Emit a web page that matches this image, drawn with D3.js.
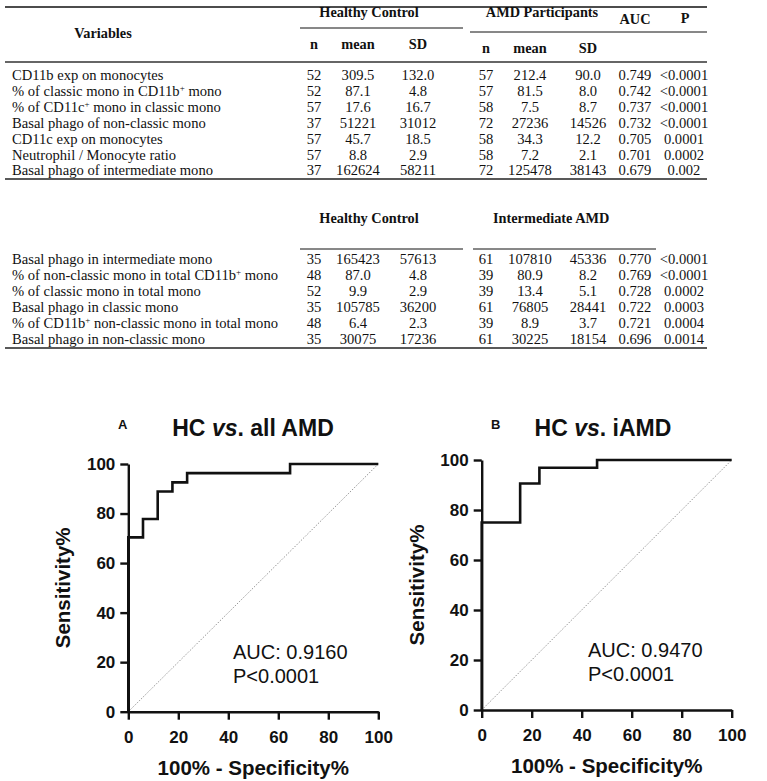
<!DOCTYPE html>
<html><head><meta charset="utf-8">
<script src="https://cdn.jsdelivr.net/npm/d3@7"></script>
<style>body{margin:0;background:#fff}</style>
</head><body>
<svg id="c" width="767" height="781"></svg>
<script>
// ---------- DATA ----------
const t1Vars = ["CD11b exp on monocytes","% of classic mono in CD11b^+ mono","% of CD11c^+ mono in classic mono","Basal phago of non-classic mono","CD11c exp on monocytes","Neutrophil / Monocyte ratio","Basal phago of intermediate mono"];
const t1HcN = ["52","52","57","37","57","57","37"];
const t1HcMean = ["309.5","87.1","17.6","51221","45.7","8.8","162624"];
const t1HcSd = ["132.0","4.8","16.7","31012","18.5","2.9","58211"];
const t1AmdN = ["57","57","58","72","58","58","72"];
const t1AmdMean = ["212.4","81.5","7.5","27236","34.3","7.2","125478"];
const t1AmdSd = ["90.0","8.0","8.7","14526","12.2","2.1","38143"];
const t1Auc = ["0.749","0.742","0.737","0.732","0.705","0.701","0.679"];
const t1P = ["<0.0001","<0.0001","<0.0001","<0.0001","0.0001","0.0002","0.002"];

const t2Vars = ["Basal phago in intermediate mono","% of non-classic mono in total CD11b^+ mono","% of classic mono in total mono","Basal phago in classic mono","% of CD11b^+ non-classic mono in total mono","Basal phago in non-classic mono"];
const t2HcN = ["35","48","52","35","48","35"];
const t2HcMean = ["165423","87.0","9.9","105785","6.4","30075"];
const t2HcSd = ["57613","4.8","2.9","36200","2.3","17236"];
const t2IamdN = ["61","39","39","61","39","61"];
const t2IamdMean = ["107810","80.9","13.4","76805","8.9","30225"];
const t2IamdSd = ["45336","8.2","5.1","28441","3.7","18154"];
const t2Auc = ["0.770","0.769","0.728","0.722","0.721","0.696"];
const t2P = ["<0.0001","<0.0001","0.0002","0.0003","0.0004","0.0014"];

const colKeys = ["hcN","hcMean","hcSd","amdN","amdMean","amdSd","auc","p"];
const subHeaders = ["n","mean","SD"];

// ROC curves (100% - specificity, sensitivity)
const rocAX = [0, 0, 5.88, 11.76, 17.65, 23.53, 64.71, 100];
const rocAY = [0, 70.37, 77.78, 88.89, 92.59, 96.30, 100, 100];
const rocBX = [0, 0, 15.38, 23.08, 46.15, 100];
const rocBY = [0, 75.0, 90.63, 96.88, 100, 100];
const axisTicks = [0, 20, 40, 60, 80, 100];

// ---------- DRAW ----------
const svg = d3.select("#c");
const serif = "'Liberation Serif','Times New Roman',serif";
const sans = "'Liberation Sans',Arial,Helvetica,sans-serif";

const colX = d3.scaleOrdinal().domain(colKeys).range([314, 358, 418, 486, 530, 588, 635, 684]);

function richText(sel, str){
  const parts = str.split("^+");
  parts.forEach((p,i)=>{
    const ts = sel.append("tspan").text(p);
    if(i > 0) ts.attr("dy","5");
    if(i < parts.length-1){
      sel.append("tspan").attr("font-size","9px").attr("dy","-5").text("+");
    }
  });
}

function drawRows(vars, cols, y0){
  const rowY = d3.scaleLinear().domain([0,1]).range([y0, y0+15.9]);
  const g = svg.append("g").attr("font-family", serif).attr("font-size","14.6px").attr("fill","#111");
  vars.forEach((v,i)=>{
    const t = g.append("text").attr("x",12).attr("y",rowY(i));
    richText(t, v);
  });
  cols.forEach((arr,ci)=>{
    g.selectAll(null).data(arr).join("text")
      .attr("x", colX(colKeys[ci])).attr("y",(d,i)=>rowY(i))
      .attr("text-anchor","middle").text(d=>d);
  });
  return rowY;
}

function rule(x1,x2,y,w,c){
  svg.append("line").attr("x1",x1).attr("x2",x2).attr("y1",y).attr("y2",y)
    .attr("stroke",c||"#111").attr("stroke-width",w||1);
}

// Table 1 header
const hdr = svg.append("g").attr("font-family", serif).attr("font-weight","bold").attr("font-size","14.3px").attr("fill","#111").attr("text-anchor","middle");
rule(5, 707, 7, 1.3);
hdr.append("text").attr("x",103).attr("y",38).text("Variables");
hdr.append("text").attr("x",369).attr("y",17).text("Healthy Control");
hdr.append("text").attr("x",542).attr("y",17).text("AMD Participants");
hdr.append("text").attr("x",colX("auc")).attr("y",24).text("AUC");
hdr.append("text").attr("x",colX("p")+1).attr("y",23).text("P");
rule(300, 463, 28, 1);
rule(470, 707, 32, 1);
subHeaders.forEach((s,i)=>{
  hdr.append("text").attr("x",colX(colKeys[i])).attr("y",49).text(s);
  hdr.append("text").attr("x",colX(colKeys[i+3])).attr("y",53).text(s);
});
rule(5, 707, 62, 2, "#666");

drawRows(t1Vars, [t1HcN,t1HcMean,t1HcSd,t1AmdN,t1AmdMean,t1AmdSd,t1Auc,t1P], 80);
rule(5, 707, 179, 1.5, "#222");

// Table 2 header
hdr.append("text").attr("x",369).attr("y",223).text("Healthy Control");
hdr.append("text").attr("x",493).attr("y",223).attr("text-anchor","start").text("Intermediate AMD");
rule(300, 463, 249, 1);
rule(473, 656, 249, 1);
drawRows(t2Vars, [t2HcN,t2HcMean,t2HcSd,t2IamdN,t2IamdMean,t2IamdSd,t2Auc,t2P], 264);
rule(5, 707, 348, 1.5, "#222");

// ROC panels
function drawRoc(cfg){
  const x = d3.scaleLinear().domain([0,100]).range(cfg.xr);
  const y = d3.scaleLinear().domain([0,100]).range(cfg.yr);
  const g = svg.append("g");
  g.append("line").attr("x1",x(0)).attr("y1",y(0)).attr("x2",x(100)).attr("y2",y(100))
    .attr("stroke","#999").attr("stroke-width",1).attr("stroke-dasharray","1.5,1.5");
  const pts = cfg.xs.map((d,i)=>[d,cfg.ys[i]]);
  g.append("path").datum(pts)
    .attr("d", d3.line().x(d=>x(d[0])).y(d=>y(d[1])).curve(d3.curveStepAfter))
    .attr("fill","none").attr("stroke","#111").attr("stroke-width",2.6);
  const xa = g.append("g").attr("transform",`translate(0,${cfg.yr[0]})`)
    .call(d3.axisBottom(x).tickValues(axisTicks).tickSize(8).tickSizeOuter(0).tickPadding(11));
  const ya = g.append("g").attr("transform",`translate(${cfg.xr[0]},0)`)
    .call(d3.axisLeft(y).tickValues(axisTicks).tickSize(8).tickSizeOuter(0).tickPadding(5));
  [xa,ya].forEach(a=>{
    a.selectAll("path,line").attr("stroke","#111").attr("stroke-width",2.4);
    a.selectAll("text").attr("font-family",sans).attr("font-weight","bold").attr("font-size","17px").attr("fill","#111");
  });
  const cx = (cfg.xr[0]+cfg.xr[1])/2, cy = (cfg.yr[0]+cfg.yr[1])/2;
  g.append("text").attr("x",cx).attr("y",cfg.yr[0]+63).attr("text-anchor","middle")
    .attr("font-family",sans).attr("font-weight","bold").attr("font-size","20.5px").attr("fill","#111")
    .text("100% - Specificity%");
  g.append("text").attr("transform",`translate(${cfg.xr[0]-58},${cy}) rotate(-90)`).attr("text-anchor","middle")
    .attr("font-family",sans).attr("font-weight","bold").attr("font-size","20.5px").attr("fill","#111")
    .text("Sensitivity%");
  const tt = g.append("text").attr("x",cfg.titleX).attr("y",436).attr("text-anchor","middle")
    .attr("font-family",sans).attr("font-weight","bold").attr("font-size","23px").attr("fill","#111");
  tt.append("tspan").text("HC ");
  tt.append("tspan").attr("font-style","italic").text("vs");
  tt.append("tspan").text(". " + cfg.title);
  g.append("text").attr("x",cfg.letterX).attr("y",429).attr("font-family",sans).attr("font-weight","bold")
    .attr("font-size","13px").attr("fill","#111").text(cfg.letter);
  const ag = g.append("g").attr("font-family",sans).attr("font-size","20px").attr("fill","#111");
  ag.append("text").attr("x",cfg.annX).attr("y",cfg.annY).text(cfg.auc);
  ag.append("text").attr("x",cfg.annX).attr("y",cfg.annY+24).text("P<0.0001");
}

drawRoc({xr:[128.3,378.3], yr:[711.7,464], xs:rocAX, ys:rocAY, title:"all AMD", titleX:253, letter:"A", letterX:118, annX:233, annY:659, auc:"AUC: 0.9160"});
drawRoc({xr:[481.7,731.7], yr:[710,460], xs:rocBX, ys:rocBY, title:"iAMD", titleX:603, letter:"B", letterX:491, annX:588, annY:657, auc:"AUC: 0.9470"});
</script>
</body></html>
